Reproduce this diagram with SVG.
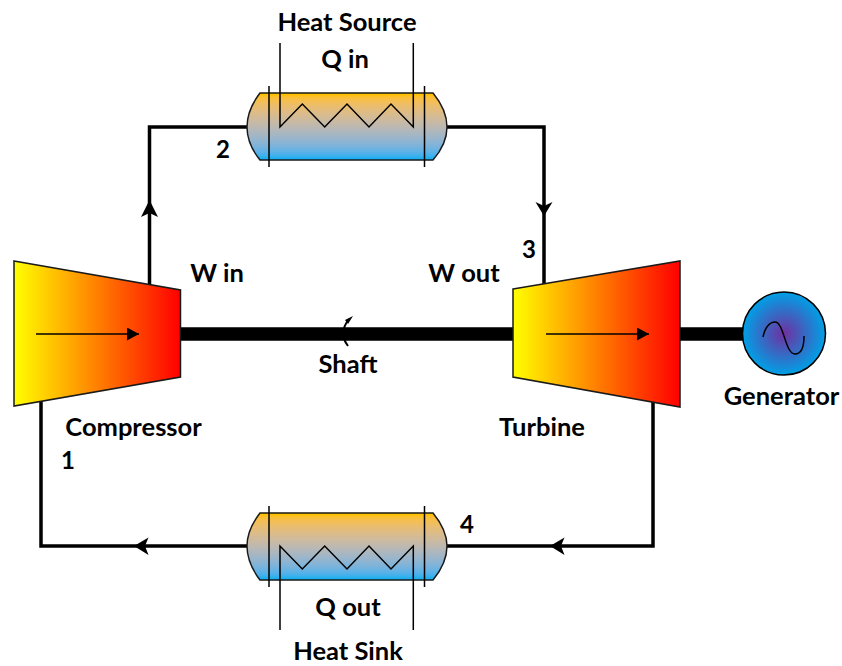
<svg xmlns="http://www.w3.org/2000/svg" width="842" height="666" viewBox="0 0 842 666">
<defs>
<linearGradient id="hot" x1="0" y1="0" x2="1" y2="0"><stop offset="0" stop-color="#ffff00"/><stop offset="1" stop-color="#ff0000"/></linearGradient>
<linearGradient id="hx" x1="0" y1="0" x2="0" y2="1" color-interpolation="linearRGB"><stop offset="0.03" stop-color="#ffc000"/><stop offset="0.97" stop-color="#1cb0f0"/></linearGradient>
<radialGradient id="gen" cx="0.5" cy="0.5" r="0.5"><stop offset="0" stop-color="#7030a0"/><stop offset="1" stop-color="#00a0e6"/></radialGradient>
<marker id="thin" markerUnits="userSpaceOnUse" markerWidth="12" markerHeight="13" refX="12" refY="6.500" orient="auto"><path d="M0,0L12,6.500L0,13Z" fill="#000"/></marker>
</defs>
<style>
text{font-family:"Lato","Liberation Sans",sans-serif;font-weight:700;font-size:25.500px;fill:#000;text-anchor:middle}
.small{font-size:24px}
.pipe{fill:none;stroke:#000;stroke-width:3.500}
.shaft{fill:none;stroke:#000;stroke-width:13.500}
.body{stroke:#1a1a1a;stroke-width:1.500}
.thin{fill:none;stroke:#000;stroke-width:1.500}
</style>
<g id="connectors">
<path class="pipe" d="M149.500,285V127H247"/>
<path class="pipe" d="M447,127H544V285"/>
<path class="pipe" d="M653,402V546H447"/>
<path class="pipe" d="M247,546H41V401"/>
<path d="M149.500,200L158,217L149.500,213L141,217Z"/>
<path d="M544,216L535.500,202L544,206L552.500,202Z"/>
<path d="M134,546L148.500,537.500L145,546L148.500,555Z"/>
<path d="M550,546L564.500,537.500L561,546L564.500,555Z"/>
<path class="shaft" d="M180,334H513M680,334H743"/>
</g>
<g id="compressor">
<path class="body" fill="url(#hot)" d="M14,261L180.500,290V377L14,406Z"/>
<path class="thin" marker-end="url(#thin)" d="M36,334H139"/>
<text x="133.500" y="435.500">Compressor</text>
</g>
<g id="turbine">
<path class="body" fill="url(#hot)" d="M513,289L680,261V407L513,377Z"/>
<path class="thin" marker-end="url(#thin)" d="M546,334H649"/>
<text x="542" y="435.500">Turbine</text>
</g>
<g id="heat-source">
<path class="body" fill="url(#hx)" d="M260,93H433Q447,110 447,127Q447,144 433,160H260Q247,144 247,127Q247,110 260,93Z"/>
<path class="thin" d="M269,86V167M424.500,86V167"/>
<path class="thin" d="M280,43V127L302.300,104L324.700,127L347,104L369,127L391,104L413.300,127V43"/>
<text x="347" y="30.500">Heat Source</text>
<text x="345" y="67.500">Q in</text>
</g>
<g id="heat-sink">
<path class="body" fill="url(#hx)" d="M260,513H433Q447,530 447,546Q447,563 433,580H260Q247,563 247,546Q247,530 260,513Z"/>
<path class="thin" d="M269,506V587M424.500,506V587"/>
<path class="thin" d="M280,630V546L302.300,569L324.700,546L347,569L369,546L391,569L413.300,546V630"/>
<text x="348" y="615.500">Q out</text>
<text x="348" y="660">Heat Sink</text>
</g>
<g id="generator">
<circle cx="784" cy="333.500" r="41.500" fill="url(#gen)" stroke="#000" stroke-width="1.500"/>
<path class="thin" d="M763,337C765,327 770,322 775,322C784,322 785,354 795,354C802,354 804,346 804,336"/>
<text x="781.500" y="404.500">Generator</text>
</g>
<g id="shaft">
<path fill="none" stroke="#000" stroke-width="2" d="M349,319Q338,333 348,346"/>
<path d="M353,316L345,320L348,324Z"/>
<text x="348" y="372.500">Shaft</text>
</g>
<g id="labels">
<text x="217" y="281.500">W in</text>
<text x="464" y="281.500">W out</text>
<text class="small" x="223" y="158">2</text>
<text class="small" x="529" y="258">3</text>
<text class="small" x="68" y="469">1</text>
<text class="small" x="467" y="533">4</text>
</g>
</svg>
